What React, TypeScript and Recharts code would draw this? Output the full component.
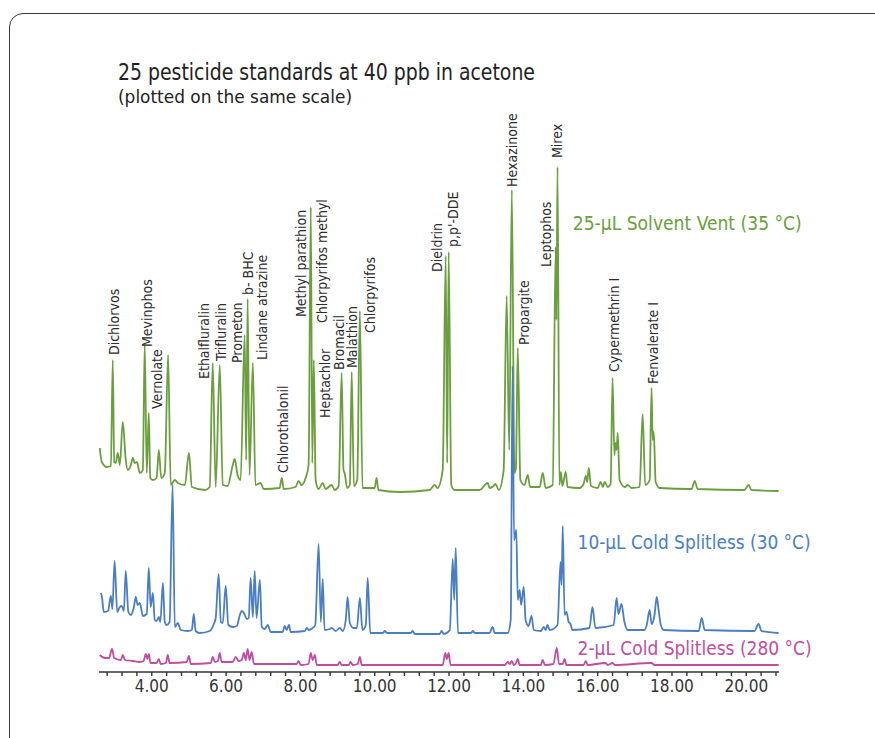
import { LineChart, Line, XAxis, YAxis, ReferenceDot } from "recharts";

// retention time (min) vs. detector signal (signal relative to each trace's baseline)
const solventVent: [number, number][] = [
  [2.6, 43], [2.655, 29], [2.79, 24], [2.9, 25], [2.95, 131], [2.99, 29], [3.03, 28], [3.085, 38],
  [3.14, 26], [3.22, 69], [3.3, 31], [3.355, 21], [3.43, 25], [3.49, 33], [3.54, 28], [3.6, 29],
  [3.68, 18], [3.76, 21], [3.81, 147], [3.865, 18], [3.92, 78], [3.96, 13], [4.03, 11], [4.13, 13],
  [4.19, 41], [4.255, 13], [4.35, 18], [4.44, 136], [4.51, 6], [4.62, 11], [4.7, 8], [4.89, 6],
  [5.0, 38], [5.08, 4], [5.43, 1], [5.56, 4], [5.64, 128], [5.72, 4], [5.83, 126], [5.91, 6],
  [6.04, 5], [6.18, 26], [6.23, 32], [6.31, 16], [6.39, 11], [6.5, 156], [6.54, 31], [6.58, 192],
  [6.63, 16], [6.72, 128], [6.79, 6], [6.93, 8], [7.01, 2], [7.44, 3], [7.5, 13], [7.55, 2],
  [7.87, 4], [7.95, 10], [8.03, 6], [8.14, 13], [8.22, 26], [8.28, 284], [8.32, 28], [8.36, 131],
  [8.41, 11], [8.49, 2], [8.6, 8], [8.68, 2], [8.84, 6], [8.92, 1], [9.03, 5], [9.11, 118],
  [9.16, 21], [9.19, 18], [9.26, 3], [9.33, 6], [9.38, 119], [9.44, 5], [9.53, 11], [9.6, 180],
  [9.67, 3], [10.0, 3], [10.05, 13], [10.1, 1], [10.67, -1], [11.48, 1], [11.61, 6], [11.69, 3],
  [11.83, 21], [11.91, 235], [11.95, 28], [11.99, 239], [12.06, 6], [12.15, 1], [12.82, 1],
  [13.04, 8], [13.09, 3], [13.2, 5], [13.25, 7], [13.34, 1], [13.47, 21], [13.55, 195], [13.62, 41],
  [13.69, 301], [13.76, 18], [13.8, 23], [13.85, 143], [13.92, 11], [14.03, 6], [14.12, 16],
  [14.18, 4], [14.44, 4], [14.52, 18], [14.6, 3], [14.79, 6], [14.87, 244], [14.89, 171],
  [14.92, 324], [14.97, 6], [15.01, 19], [15.05, 5], [15.14, 19], [15.19, 4], [15.51, 3],
  [15.62, 7], [15.68, 15], [15.72, 9], [15.76, 23], [15.82, 5], [16.0, 3], [16.08, 9], [16.14, 4],
  [16.19, 9], [16.27, 4], [16.35, 7], [16.4, 113], [16.45, 36], [16.48, 48], [16.51, 41],
  [16.54, 58], [16.59, 11], [16.73, 4], [16.81, 6], [16.91, 3], [17.13, 4], [17.21, 77], [17.28, 6],
  [17.4, 11], [17.45, 103], [17.48, 51], [17.51, 59], [17.56, 9], [17.67, 3], [18.53, 2],
  [18.61, 10], [18.69, 2], [19.95, 1], [20.06, 6], [20.14, 1], [20.87, 0],
];

const coldSplitless10: [number, number][] = [
  [2.63, 41], [2.655, 38], [2.71, 22], [2.82, 23], [2.9, 38], [2.94, 25], [3.0, 73], [3.07, 22],
  [3.14, 27], [3.19, 28], [3.25, 23], [3.3, 63], [3.37, 22], [3.44, 19], [3.52, 27], [3.57, 37],
  [3.62, 29], [3.68, 31], [3.76, 18], [3.865, 20], [3.92, 66], [3.97, 27], [4.03, 41], [4.08, 14],
  [4.13, 13], [4.19, 17], [4.23, 12], [4.3, 51], [4.35, 12], [4.4, 9], [4.48, 12], [4.56, 149],
  [4.62, 7], [4.7, 11], [4.78, 4], [4.97, 3], [5.08, 4], [5.13, 20], [5.18, 3], [5.29, 1],
  [5.56, 3], [5.67, 10], [5.72, 16], [5.8, 60], [5.86, 12], [5.91, 11], [5.99, 48], [6.06, 9],
  [6.18, 7], [6.29, 8], [6.37, 19], [6.42, 23], [6.48, 21], [6.56, 15], [6.61, 16], [6.66, 56],
  [6.72, 17], [6.77, 63], [6.82, 16], [6.91, 54], [6.96, 7], [7.04, 5], [7.12, 9], [7.2, 2],
  [7.52, 2], [7.58, 8], [7.63, 4], [7.69, 9], [7.74, 2], [8.12, 3], [8.17, 6], [8.22, 4],
  [8.33, 6], [8.4, 9], [8.49, 90], [8.55, 12], [8.6, 55], [8.65, 4], [8.79, 5], [8.84, 6],
  [8.95, 3], [9.06, 6], [9.14, 3], [9.22, 14], [9.27, 37], [9.33, 11], [9.43, 6], [9.52, 6],
  [9.6, 36], [9.67, 4], [9.76, 9], [9.81, 56], [9.88, 1], [10.22, 1], [10.27, 3], [10.33, 1],
  [10.97, 1], [11.02, 3], [11.08, 0], [11.75, 0], [11.8, 3], [11.86, 0], [12.02, 4], [12.1, 75],
  [12.14, 34], [12.18, 86], [12.24, 1], [12.59, 1], [12.64, 3], [12.69, 1], [13.09, 1], [13.17, 7],
  [13.23, 1], [13.58, 1], [13.66, 14], [13.71, 268], [13.75, 94], [13.81, 104], [13.85, 34],
  [13.9, 44], [13.94, 29], [14.01, 47], [14.06, 14], [14.14, 8], [14.22, 18], [14.28, 4],
  [14.47, 3], [14.55, 7], [14.6, 4], [14.65, 9], [14.71, 4], [14.92, 9], [15.0, 72], [15.03, 49],
  [15.06, 108], [15.11, 19], [15.16, 22], [15.22, 12], [15.27, 10], [15.32, 4], [15.78, 6],
  [15.86, 27], [15.94, 6], [16.43, 9], [16.51, 36], [16.56, 20], [16.64, 30], [16.72, 12],
  [16.81, 4], [17.26, 4], [17.32, 9], [17.4, 24], [17.45, 10], [17.53, 19], [17.59, 37],
  [17.64, 24], [17.7, 9], [17.78, 4], [18.72, 3], [18.8, 16], [18.88, 4], [20.22, 3], [20.33, 10],
  [20.41, 3], [20.87, 1],
];

const coldSplitless2: [number, number][] = [
  [2.6, 10], [2.74, 7], [2.85, 7], [2.93, 16], [2.99, 7], [3.17, 5], [3.22, 10], [3.28, 5],
  [3.49, 4], [3.68, 3], [3.78, 4], [3.84, 11], [3.88, 6], [3.92, 11], [3.97, 2], [4.13, 2],
  [4.19, 6], [4.24, 1], [4.38, 2], [4.43, 10], [4.48, 2], [4.94, 3], [5.0, 9], [5.05, 1],
  [5.59, 2], [5.64, 8], [5.7, 3], [5.78, 4], [5.83, 12], [5.88, 3], [6.18, 3], [6.26, 8],
  [6.34, 4], [6.42, 5], [6.48, 12], [6.53, 5], [6.58, 16], [6.63, 5], [6.69, 13], [6.75, 1],
  [7.9, 1], [7.95, 4], [8.01, 0], [8.22, 1], [8.28, 12], [8.33, 5], [8.39, 10], [8.44, 0],
  [9.0, 0], [9.06, 3], [9.11, 0], [9.3, 0], [9.35, 3], [9.41, 0], [9.54, 1], [9.6, 8], [9.65, 0],
  [11.83, 0], [11.9, 12], [11.94, 6], [11.99, 12], [12.04, 0], [13.5, 0], [13.58, 3], [13.63, 1],
  [13.69, 4], [13.74, 0], [13.79, 1], [13.85, 6], [13.9, 0], [14.47, 0], [14.52, 5], [14.58, 0],
  [14.81, 1], [14.9, 17], [14.96, 1], [15.06, 1], [15.11, 6], [15.16, 0], [15.62, 0], [15.68, 4],
  [15.73, 0], [16.21, 2], [16.27, 0], [16.4, 2], [16.46, 0], [17.45, 2], [17.53, 0], [20.87, 0],
];

// compound names, where their labels sit (time) and how high above the top baseline
const compounds = [
  "Dichlorvos", "Mevinphos", "Vernolate", "Ethalfluralin", "Trifluralin", "Prometon", "b- BHC",
  "Lindane atrazine", "Chlorothalonil", "Methyl parathion", "Chlorpyrifos methyl", "Heptachlor",
  "Bromacil", "Malathion", "Chlorpyrifos", "Dieldrin", "p,p'-DDE", "Hexazinone", "Propargite",
  "Leptophos", "Mirex", "Cypermethrin I", "Fenvalerate I",
];
const labelTimes = [
  2.98, 3.865, 4.13, 5.4, 5.86, 6.29, 6.58, 6.96, 7.52, 8.01, 8.57, 8.65, 9.03, 9.38, 9.86, 11.67,
  12.12, 13.69, 14.03, 14.6, 14.9, 16.43, 17.48,
];
const labelLevels = [
  136, 144, 82, 112, 130, 128, 196, 131, 18, 174, 168, 73, 121, 123, 158, 219, 244, 304, 146, 224,
  333, 119, 107,
];

const seriesNames = ["25-µL Solvent Vent (35 °C)", "10-µL Cold Splitless (30 °C)", "2-µL Cold Splitless (280 °C)"];
const seriesLabelTimes = [15.33, 15.46, 15.46];
const seriesLabelLevels = [268, 92, 17];
const seriesLabelWidths = [229, 233, 234];

const xTicks = [
  2.8, 3.2, 3.6, 4.0, 4.4, 4.8, 5.2, 5.6, 6.0, 6.4, 6.8, 7.2, 7.6, 8.0, 8.4, 8.8, 9.2, 9.6, 10.0,
  10.4, 10.8, 11.2, 11.6, 12.0, 12.4, 12.8, 13.2, 13.6, 14.0, 14.4, 14.8, 15.2, 15.6, 16.0, 16.4,
  16.8, 17.2, 17.6, 18.0, 18.4, 18.8, 19.2, 19.6, 20.0, 20.4, 20.8,
];
const labeledTicks = [4, 6, 8, 10, 12, 14, 16, 18, 20];

const COLORS = ["#6b9e3d", "#4a7ec3", "#c04d9f"];
const OFFSETS = [181, 38, 7];
const FONT = "'Liberation Sans Narrow', 'DejaVu Sans Condensed', 'Liberation Sans', sans-serif";

const toPoints = (pairs: [number, number][], offset: number) =>
  pairs.map(([t, s]) => ({ t, y: s + offset }));

const traces = [solventVent, coldSplitless10, coldSplitless2].map((d, i) => toPoints(d, OFFSETS[i]));

function PeakLabel({ cx, cy, text }: { cx?: number; cy?: number; text: string }) {
  if (cx == null || cy == null) return null;
  return (
    <text
      x={cx}
      y={cy}
      transform={`rotate(-90 ${cx} ${cy})`}
      textAnchor="start"
      dominantBaseline="central"
      fontFamily={FONT}
      fontSize={14}
      fill="#2b2b2b"
    >
      {text}
    </text>
  );
}

function SeriesLabel(props: { cx?: number; cy?: number; text: string; color: string; width: number }) {
  const { cx, cy, text, color, width } = props;
  if (cx == null || cy == null) return null;
  return (
    <text
      x={cx}
      y={cy}
      dominantBaseline="central"
      fontFamily={FONT}
      fontSize={19}
      fill={color}
      textLength={width}
      lengthAdjust="spacingAndGlyphs"
    >
      {text}
    </text>
  );
}

export default function App() {
  return (
    <div
      style={{
        position: "fixed",
        left: 0,
        top: 0,
        width: 875,
        height: 738,
        background: "#fff",
        overflow: "hidden",
      }}
    >
      <div
        style={{
          position: "absolute",
          left: 9,
          top: 13,
          width: 920,
          height: 800,
          border: "1.3px solid #3a3a3a",
          borderRadius: 14,
        }}
      />
      <svg width={875} height={120} style={{ position: "absolute", left: 0, top: 0 }}>
        <text x={118} y={80} fontFamily={FONT} fontSize={23} fill="#222" textLength={417} lengthAdjust="spacingAndGlyphs">
          25 pesticide standards at 40 ppb in acetone
        </text>
        <text x={118} y={103} fontFamily={FONT} fontSize={18} fill="#222" textLength={234} lengthAdjust="spacingAndGlyphs">
          (plotted on the same scale)
        </text>
      </svg>
      <div style={{ position: "absolute", left: 0, top: 0 }}>
        <LineChart width={875} height={738} margin={{ top: 100, right: 96, bottom: 36, left: 99 }}>
          <XAxis
            dataKey="t"
            type="number"
            domain={[2.58, 20.88]}
            allowDataOverflow
            ticks={xTicks}
            interval={0}
            tickSize={4}
            tickMargin={4}
            stroke="#333"
            strokeWidth={1.4}
            tick={{ fontSize: 17, fill: "#333", fontFamily: FONT }}
            tickFormatter={(v: number) =>
              labeledTicks.some((l) => Math.abs(l - v) < 1e-6) ? v.toFixed(2) : ""
            }
          />
          <YAxis type="number" domain={[0, 572]} hide />
          {traces.map((pts, i) => (
            <Line
              key={i}
              data={pts}
              dataKey="y"
              type="monotone"
              stroke={COLORS[i]}
              strokeWidth={1.8}
              dot={false}
              activeDot={false}
              isAnimationActive={false}
            />
          ))}
          {compounds.map((name, i) => (
            <ReferenceDot
              key={name}
              x={labelTimes[i]}
              y={labelLevels[i] + OFFSETS[0]}
              r={0}
              shape={(p: any) => <PeakLabel cx={p.cx} cy={p.cy} text={name} />}
            />
          ))}
          {seriesNames.map((name, i) => (
            <ReferenceDot
              key={name}
              x={seriesLabelTimes[i]}
              y={seriesLabelLevels[i] + OFFSETS[i]}
              r={0}
              shape={(p: any) => (
                <SeriesLabel cx={p.cx} cy={p.cy} text={name} color={COLORS[i]} width={seriesLabelWidths[i]} />
              )}
            />
          ))}
        </LineChart>
      </div>
    </div>
  );
}
